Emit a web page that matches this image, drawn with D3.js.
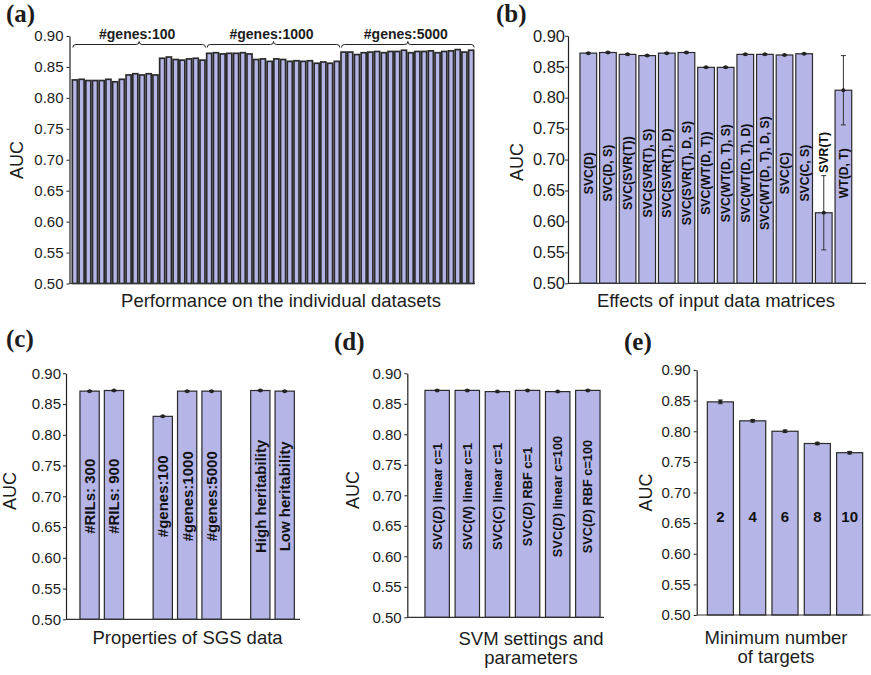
<!DOCTYPE html>
<html>
<head>
<meta charset="utf-8">
<script src="https://cdn.jsdelivr.net/npm/d3@7"></script>
<style>
  body { margin: 0; background: #fff; }
  svg text { font-family: "Liberation Sans", Arial, sans-serif; fill: #1c1c1c; }
</style>
</head>
<body>
<svg id="chart" width="871" height="675"></svg>
<script>
// ---- data ----
const yTicks = [0.50, 0.55, 0.60, 0.65, 0.70, 0.75, 0.80, 0.85, 0.90];

// (a) individual datasets, 20 per gene-count group
const aGroupLabels = ["#genes:100", "#genes:1000", "#genes:5000"];
const aGenes100 = [0.829, 0.830, 0.828, 0.828, 0.828, 0.830, 0.826, 0.830, 0.837, 0.839,
                   0.837, 0.839, 0.837, 0.864, 0.866, 0.862, 0.861, 0.863, 0.864, 0.861];
const aGenes1000 = [0.872, 0.873, 0.871, 0.872, 0.872, 0.873, 0.871, 0.862, 0.863, 0.859,
                    0.863, 0.862, 0.859, 0.860, 0.859, 0.860, 0.856, 0.858, 0.856, 0.859];
const aGenes5000 = [0.874, 0.874, 0.870, 0.873, 0.874, 0.875, 0.873, 0.875, 0.875, 0.877,
                    0.873, 0.875, 0.875, 0.876, 0.873, 0.875, 0.876, 0.878, 0.874, 0.877];

// (b) input data matrices
const bLabels = ["SVC(D)", "SVC(D, S)", "SVC(SVR(T))", "SVC(SVR(T), S)", "SVC(SVR(T), D)",
                 "SVC(SVR(T), D, S)", "SVC(WT(D, T))", "SVC(WT(D, T), S)", "SVC(WT(D, T), D)",
                 "SVC(WT(D, T), D, S)", "SVC(C)", "SVC(C, S)", "SVR(T)", "WT(D, T)"];
const bValues = [0.872, 0.873, 0.870, 0.868, 0.872, 0.873, 0.849, 0.849, 0.870, 0.870,
                 0.869, 0.871, 0.614, 0.812];
const bErrors = [0.001, 0.001, 0.001, 0.001, 0.001, 0.001, 0.001, 0.001, 0.001, 0.001,
                 0.001, 0.001, 0.060, 0.056];

// (c) properties of SGS data ("" = empty slot)
const cLabels = ["#RILs: 300", "#RILs: 900", "", "#genes:100", "#genes:1000", "#genes:5000",
                 "", "High heritability", "Low heritability"];
const cValues = [0.871, 0.872, null, 0.830, 0.871, 0.871, null, 0.872, 0.871];
const cErrors = [0.001, 0.001, null, 0.001, 0.001, 0.001, null, 0.001, 0.001];

// (d) SVM settings
const dLabels = ["SVC(D) linear c=1", "SVC(N) linear c=1", "SVC(C) linear c=1",
                 "SVC(D) RBF c=1", "SVC(D) linear c=100", "SVC(D) RBF c=100"];
const dValues = [0.872, 0.872, 0.870, 0.872, 0.870, 0.872];
const dErrors = [0.001, 0.001, 0.001, 0.001, 0.001, 0.001];

// (e) minimum number of targets
const eLabels = ["2", "4", "6", "8", "10"];
const eValues = [0.848, 0.817, 0.800, 0.780, 0.765];
const eErrors = [0.003, 0.002, 0.002, 0.002, 0.002];

const barFill = "#b5b5e8";
const barStroke = "#2a2a2a";
const svg = d3.select("#chart");

// draws axes + bars for one panel and returns the scales
function drawPanel(p) {
    const g = svg.append("g");
    const y = d3.scaleLinear().domain([0.5, 0.9]).range([p.yBottom, p.yTop]);
    const x = d3.scaleBand()
        .domain(d3.range(p.values.length))
        .range(p.barRange)
        .paddingInner(p.padding)
        .paddingOuter(p.padding / 2);

    const data = p.values.map((v, i) => ({i: i, v: v, e: p.errors ? p.errors[i] : null, label: p.labels ? p.labels[i] : ""}))
        .filter(d => d.v !== null);

    g.selectAll("rect.bar")
        .data(data)
        .join("rect")
        .attr("class", "bar")
        .attr("x", d => x(d.i))
        .attr("width", x.bandwidth())
        .attr("y", d => y(d.v))
        .attr("height", d => y(0.5) - y(d.v))
        .style("fill", barFill)
        .style("stroke", barStroke)
        .style("stroke-width", p.strokeWidth || 1.2);

    // error bars
    if (p.errors) {
        const eb = g.selectAll("g.err").data(data).join("g").attr("class", "err");
        const cx = d => x(d.i) + x.bandwidth() / 2;
        eb.append("line")
            .attr("x1", cx).attr("x2", cx)
            .attr("y1", d => y(d.v + d.e)).attr("y2", d => y(d.v - d.e))
            .style("stroke", "#333").style("stroke-width", 1);
        [1, -1].forEach(s => {
            eb.append("line")
                .attr("x1", d => cx(d) - 2.5).attr("x2", d => cx(d) + 2.5)
                .attr("y1", d => y(d.v + s * d.e)).attr("y2", d => y(d.v + s * d.e))
                .style("stroke", "#333").style("stroke-width", 1);
        });
        eb.append("circle")
            .attr("cx", cx).attr("cy", d => y(d.v))
            .attr("r", 2)
            .style("fill", "#222");
    }

    // left axis
    const ax = g.append("g")
        .attr("transform", `translate(${p.axisX},0)`)
        .call(d3.axisLeft(y).tickValues(yTicks).tickFormat(d3.format(".2f"))
            .tickSize(3).tickSizeOuter(0).tickPadding(p.tickPad));
    ax.select(".domain").style("stroke", "#222").style("stroke-width", 1.2);
    ax.selectAll(".tick line").style("stroke", "#222");
    ax.selectAll(".tick text")
        .style("font-size", p.tickFont + "px")
        .style("font-family", "'Liberation Sans', Arial, sans-serif")
        .style("fill", "#1c1c1c");

    // bottom axis line
    g.append("line")
        .attr("x1", p.axisX).attr("x2", p.xEnd)
        .attr("y1", y(0.5)).attr("y2", y(0.5))
        .style("stroke", "#333").style("stroke-width", 1.2);

    // y label
    g.append("text")
        .attr("transform", `translate(${p.yLabelPos[0]},${p.yLabelPos[1]}) rotate(-90)`)
        .attr("text-anchor", "middle")
        .attr("dy", "0.35em")
        .style("font-size", "18px")
        .text("AUC");

    // x title (one or two lines)
    p.title.forEach((t, k) => {
        g.append("text")
            .attr("x", p.titlePos[0])
            .attr("y", p.titlePos[1] + k * 19)
            .attr("text-anchor", "middle")
            .style("font-size", "18.5px")
            .text(t);
    });

    // panel letter
    g.append("text")
        .attr("x", p.letterPos[0]).attr("y", p.letterPos[1])
        .style("font-family", "'Liberation Serif', 'Times New Roman', serif")
        .style("font-weight", "bold")
        .style("font-size", "25px")
        .text(p.letter);

    return {g: g, x: x, y: y, data: data};
}

// rotated labels inside bars; letter in parentheses may be italic
function barLabels(panel, opts) {
    const {g, x, y, data} = panel;
    const t = g.selectAll("text.blabel")
        .data(data.filter(d => d.label !== ""))
        .join("text")
        .attr("class", "blabel")
        .attr("text-anchor", "middle")
        .attr("dy", "0.36em")
        .style("font-size", opts.size + "px")
        .style("font-weight", "bold")
        .style("fill", "#111");
    t.each(function (d) {
        const el = d3.select(this);
        const m = opts.italic ? d.label.match(/^(.*?\()(\w)(\).*)$/) : null;
        if (m) {
            el.append("tspan").text(m[1]);
            el.append("tspan").style("font-style", "italic").text(m[2]);
            el.append("tspan").text(m[3]);
        } else {
            el.text(d.label);
        }
        const len = this.getComputedTextLength();
        const cx = x(d.i) + x.bandwidth() / 2;
        let cy = y(opts.level);
        if (opts.rotate) {
            // put label above the error bar when the bar is too short
            const top = y(d.v + (d.e || 0));
            if (cy - len / 2 < top && y(d.v) > cy - len / 2) cy = top - 3 - len / 2;
            el.attr("transform", `translate(${cx},${cy}) rotate(-90)`);
        } else {
            el.attr("transform", `translate(${cx},${cy})`);
        }
    });
}

// ---- panel (a) ----
const aValues = aGenes100.concat(aGenes1000, aGenes5000);
const pa = drawPanel({
    values: aValues, errors: null, labels: null,
    yTop: 36, yBottom: 283.5, axisX: 69.5, xEnd: 475,
    barRange: [71.5, 474.5], padding: 0.25, strokeWidth: 1.7,
    tickFont: 15, tickPad: 3,
    yLabelPos: [17, 160], title: ["Performance on the individual datasets"], titlePos: [281, 307],
    letter: "(a)", letterPos: [6, 22]
});
const groupSize = aGenes100.length;
aGroupLabels.forEach((lab, k) => {
    const x0 = pa.x(k * groupSize) + 0.5;
    const x1 = pa.x((k + 1) * groupSize - 1) + pa.x.bandwidth() + 0.5;
    const m = (x0 + x1) / 2, yb = 44.5, h = 3;
    pa.g.append("path")
        .attr("d", `M${x0},${yb + h} Q${x0},${yb} ${x0 + h},${yb} L${m - h},${yb} Q${m},${yb} ${m},${yb - h} ` +
                   `Q${m},${yb} ${m + h},${yb} L${x1 - h},${yb} Q${x1},${yb} ${x1},${yb + h}`)
        .style("fill", "none").style("stroke", "#222").style("stroke-width", 1);
    pa.g.append("text")
        .attr("x", m - 2).attr("y", 38.5)
        .attr("text-anchor", "middle")
        .style("font-size", "14px").style("font-weight", "bold")
        .text(lab);
});

// ---- panel (b) ----
const pb = drawPanel({
    values: bValues, errors: bErrors, labels: bLabels,
    yTop: 35.8, yBottom: 283.3, axisX: 568, xEnd: 866,
    barRange: [578.5, 853.2], padding: 0.15,
    tickFont: 16.5, tickPad: 0,
    yLabelPos: [516.5, 162], title: ["Effects of input data matrices"], titlePos: [716, 307],
    letter: "(b)", letterPos: [496, 22]
});
barLabels(pb, {size: 12.2, level: 0.678, rotate: true});

// ---- panel (c) ----
const pc = drawPanel({
    values: cValues, errors: cErrors, labels: cLabels,
    yTop: 373.3, yBottom: 619.3, axisX: 66, xEnd: 300,
    barRange: [77.4, 296.9], padding: 0.21,
    tickFont: 15, tickPad: 2,
    yLabelPos: [10, 491], title: ["Properties of SGS data"], titlePos: [187.5, 644],
    letter: "(c)", letterPos: [6, 347]
});
barLabels(pc, {size: 15, level: 0.70, rotate: true});

// ---- panel (d) ----
const pd = drawPanel({
    values: dValues, errors: dErrors, labels: dLabels,
    yTop: 373.3, yBottom: 617.3, axisX: 407.3, xEnd: 604,
    barRange: [422.1, 602.9], padding: 0.19,
    tickFont: 15, tickPad: 2.6,
    yLabelPos: [353, 490], title: ["SVM settings and", "parameters"], titlePos: [531, 645],
    letter: "(d)", letterPos: [334, 350]
});
barLabels(pd, {size: 12.8, level: 0.698, rotate: true, italic: true});

// ---- panel (e) ----
const pe = drawPanel({
    values: eValues, errors: eErrors, labels: eLabels,
    yTop: 370, yBottom: 615, axisX: 696.7, xEnd: 870.5,
    barRange: [704.2, 865.8], padding: 0.194,
    tickFont: 15, tickPad: 3,
    yLabelPos: [646, 492.5], title: ["Minimum number", "of targets"], titlePos: [776, 644],
    letter: "(e)", letterPos: [624, 350]
});
barLabels(pe, {size: 15, level: 0.66, rotate: false});
</script>
</body>
</html>
